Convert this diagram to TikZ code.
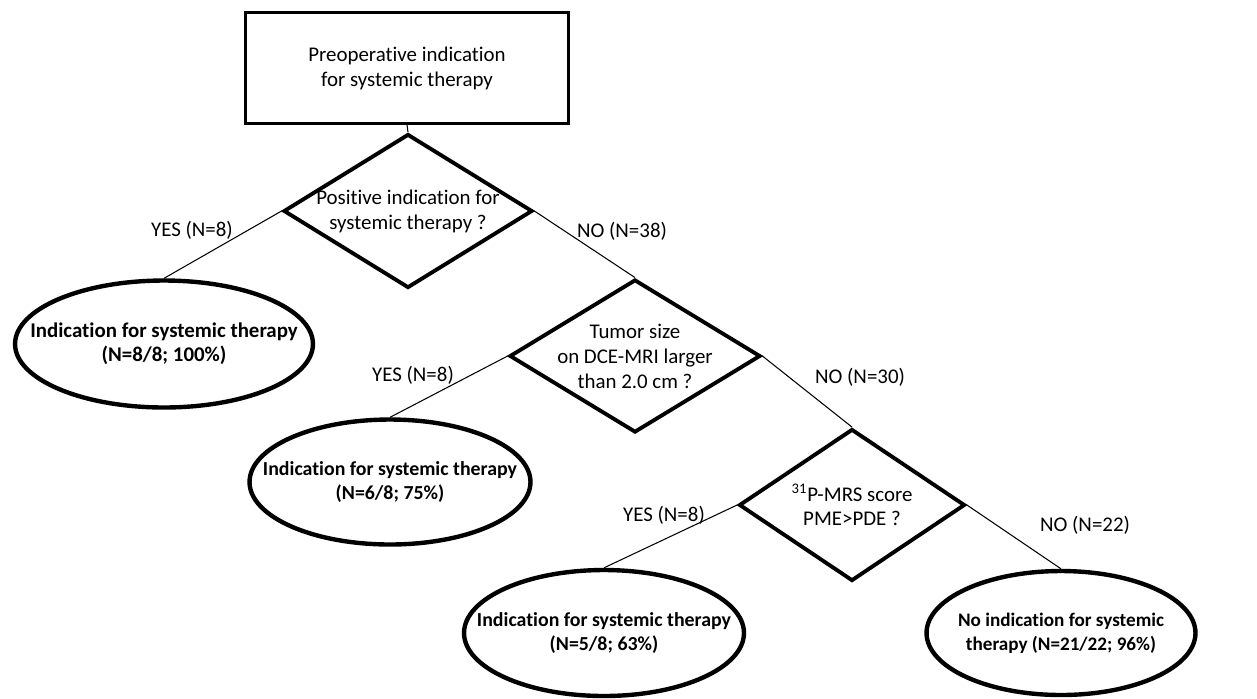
\documentclass[tikz,border=0pt]{standalone}
\usepackage{fontspec}
\setmainfont{Carlito}[Ligatures=NoCommon]
\usetikzlibrary{shapes.geometric}

\begin{document}
\begin{tikzpicture}[x=0.02cm,y=-0.02cm,
	every node/.style={font=\fontsize{11.9}{14.2}\selectfont, align=center},
	startbox/.style={draw, line width=1.7pt, minimum width=6.46cm, minimum height=2.22cm, inner sep=0pt},
	question/.style={draw, diamond, line width=2.2pt, aspect=1.6, inner xsep=-3cm, inner ysep=0pt},
	outcome/.style={draw, ellipse, line width=2.5pt, inner xsep=-3cm, inner ysep=0pt, font=\bfseries\fontsize{#1}{13.6}\selectfont},
	outcome/.default=11.3,
	branch/.style={line width=0.6pt}]
	\useasboundingbox (0,0) rectangle (1257,698);
	%Nodes
	\node[startbox] (start) at (407,68) {Preoperative indication\\for systemic therapy};
	\node[question, minimum width=4.98cm, minimum height=3.08cm] (q1) at (408,211) {Positive indication for\\systemic therapy ?};
	\node[question, minimum width=5.02cm, minimum height=3.06cm] (q2) at (635,356) {Tumor size\\on DCE-MRI larger\\than 2.0 cm ?};
	\node[question, minimum width=4.52cm, minimum height=3.04cm] (q3) at (852,505) {\textsuperscript{31}P-MRS score\\PME>PDE ?};
	\node[outcome=11.9, minimum width=5.96cm, minimum height=2.54cm] (out1) at (164,344) {Indication for systemic therapy\\(N=8/8; 100\%)};
	\node[outcome, minimum width=5.62cm, minimum height=2.50cm] (out2) at (390,482) {Indication for systemic therapy\\(N=6/8; 75\%)};
	\node[outcome, minimum width=5.60cm, minimum height=2.52cm] (out3) at (604,633) {Indication for systemic therapy\\(N=5/8; 63\%)};
	\node[outcome=10.9, minimum width=5.38cm, minimum height=2.48cm] (out4) at (1061,633) {No indication for systemic\\therapy (N=21/22; 96\%)};

	%Labels
	\node (yes1) at (192,230) {YES (N=8)};
	\node (no1)  at (622,231) {NO (N=38)};
	\node (yes2) at (413,375) {YES (N=8)};
	\node (no2)  at (860,377) {NO (N=30)};
	\node (yes3) at (664,515) {YES (N=8)};
	\node (no3)  at (1085,525) {NO (N=22)};

	%Lines
	\draw[branch] (start.south) -- (q1.north);
	\draw[branch] (q1.west) -- (out1.north);
	\draw[branch] (q1.east) -- (q2.north);
	\draw[branch] (q2.west) -- (out2.north);
	\draw[branch] (q2.east) -- (q3.north);
	\draw[branch] (q3.west) -- (out3.north);
	\draw[branch] (q3.east) -- (out4.north);
\end{tikzpicture}
\end{document}
